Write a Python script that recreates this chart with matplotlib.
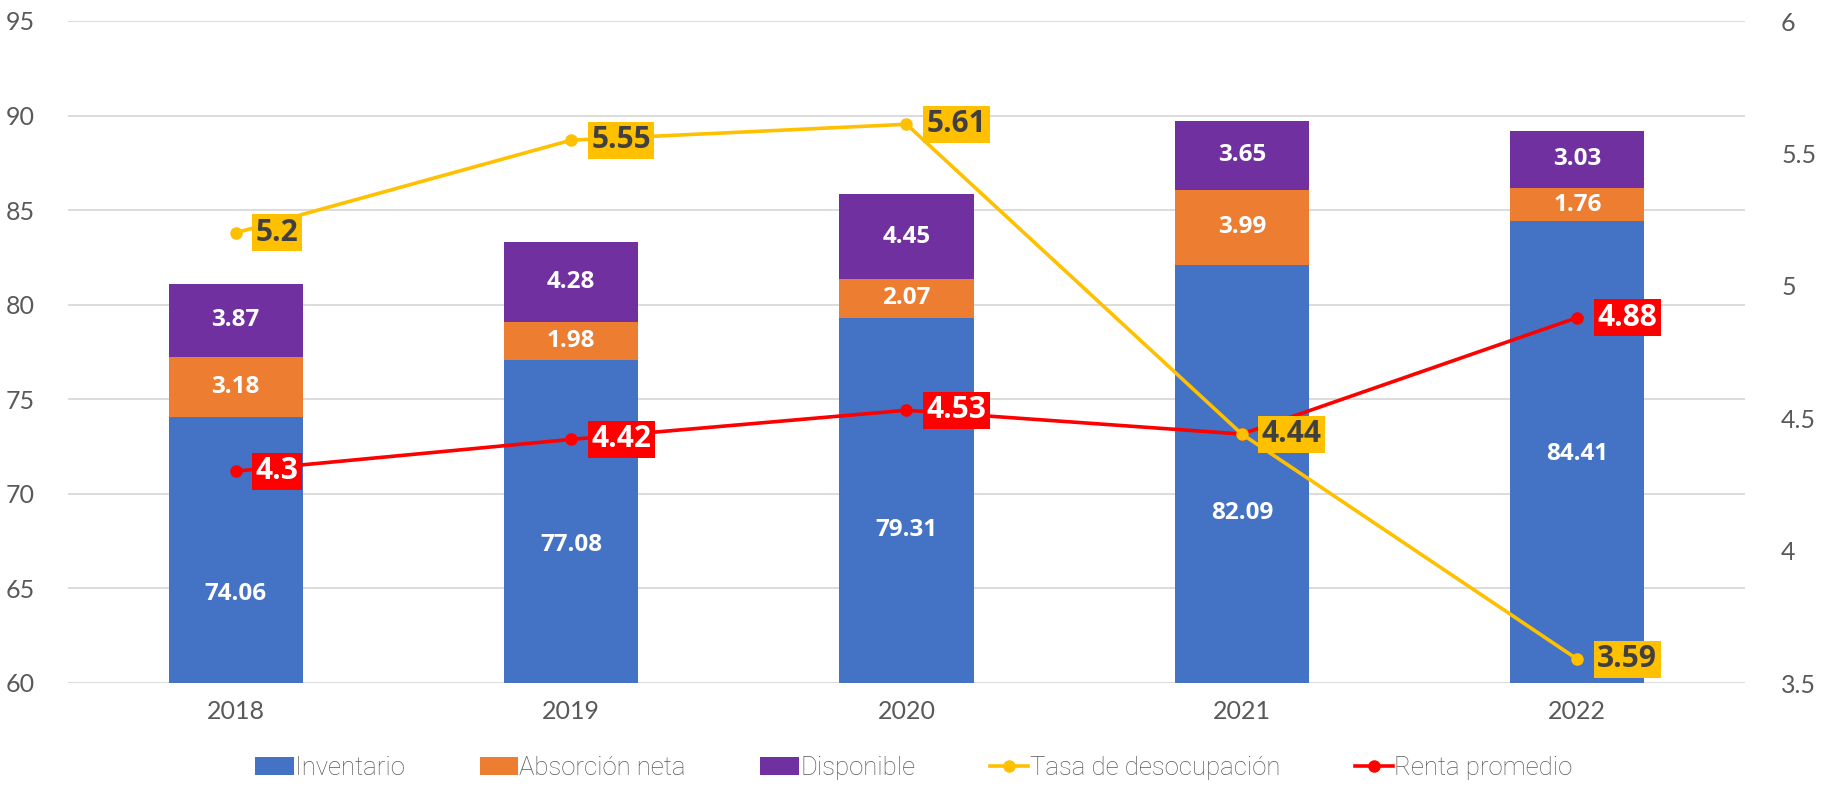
#!/usr/bin/env python3
"""Inventario / absorción / disponible con tasa de desocupación y renta promedio."""

import matplotlib
matplotlib.use("Agg")
import matplotlib.pyplot as plt
import numpy as np

years = ["2018", "2019", "2020", "2021", "2022"]
inventario = [74.06, 77.08, 79.31, 82.09, 84.41]
absorcion = [3.18, 1.98, 2.07, 3.99, 1.76]
disponible = [3.87, 4.28, 4.45, 3.65, 3.03]
tasa = [5.2, 5.55, 5.61, 4.44, 3.59]
renta = [4.3, 4.42, 4.53, 4.44, 4.88]

# where the inventario labels sit (left-axis units), as placed in the original
inv_label_y = [64.7, 67.3, 68.1, 69.0, 72.1]

BLUE = "#4472C4"
ORANGE = "#ED7D31"
PURPLE = "#7030A0"
YELLOW = "#FFC000"
RED = "#FF0000"
GRID = "#D9D9D9"
TICK = "#595959"

plt.rcParams["font.family"] = ["Lato", "DejaVu Sans"]
BOLD = ["Open Sans", "DejaVu Sans"]

fig = plt.figure(figsize=(18.28, 7.88), dpi=100)
ax = fig.add_axes([68 / 1828, 1 - 683 / 788, (1745 - 68) / 1828, (683 - 21) / 788])
ax2 = ax.twinx()

x = np.arange(len(years))
w = 0.4
inv = np.array(inventario)
ab = np.array(absorcion)
dis = np.array(disponible)

b1 = ax.bar(x, inv, w, color=BLUE, label="Inventario", zorder=2)
b2 = ax.bar(x, ab, w, bottom=inv, color=ORANGE, label="Absorción neta", zorder=2)
b3 = ax.bar(x, dis, w, bottom=inv + ab, color=PURPLE, label="Disponible", zorder=2)

lab_kw = dict(ha="center", va="center", color="white", fontsize=17.5,
              fontweight="bold", family=BOLD, zorder=3)
for i in range(len(years)):
    ax.text(x[i], inv_label_y[i], f"{inventario[i]:.2f}", **lab_kw)
    ax.text(x[i], inv[i] + ab[i] / 2, f"{absorcion[i]:.2f}", **lab_kw)
    ax.text(x[i], inv[i] + ab[i] + dis[i] / 2, f"{disponible[i]:.2f}", **lab_kw)

ax.set_ylim(60, 95)
ax.set_yticks(range(60, 96, 5))
ax.set_xlim(-0.5, len(years) - 0.5)
ax.set_xticks(x)
ax.set_xticklabels(years)
ax.grid(axis="y", color=GRID, linewidth=1.3, zorder=0)
ax.set_axisbelow(True)

ax2.set_ylim(3.5, 6)
ax2.set_yticks([3.5, 4, 4.5, 5, 5.5, 6])
ax2.set_yticklabels(["3.5", "4", "4.5", "5", "5.5", "6"])

for a in (ax, ax2):
    for s in a.spines.values():
        s.set_visible(False)
    a.tick_params(length=0, labelsize=18, labelcolor=TICK)
ax.tick_params(axis="y", pad=24)
ax.tick_params(axis="x", pad=12)
ax2.tick_params(axis="y", pad=26)

l_renta, = ax2.plot(x, renta, color=RED, lw=2.6, marker="o", ms=8,
                    label="Renta promedio", zorder=4)
l_tasa, = ax2.plot(x, tasa, color=YELLOW, lw=2.6, marker="o", ms=8,
                   label="Tasa de desocupación", zorder=5)

for i in range(len(years)):
    ax2.annotate(f"{renta[i]:g}", (x[i], renta[i]), xytext=(20, 0),
                 textcoords="offset pixels", ha="left", va="center",
                 fontsize=21.5, fontweight="bold", family=BOLD, color="white", zorder=6,
                 bbox=dict(boxstyle="square,pad=0.12", fc=RED, ec="none"))
for i in range(len(years)):
    ax2.annotate(f"{tasa[i]:g}", (x[i], tasa[i]), xytext=(20, 0),
                 textcoords="offset pixels", ha="left", va="center",
                 fontsize=21.5, fontweight="bold", family=BOLD, color="#404040", zorder=7,
                 bbox=dict(boxstyle="square,pad=0.12", fc=YELLOW, ec="none"))

handles = [b1, b2, b3, l_tasa, l_renta]
labels = [h.get_label() for h in handles]
leg = fig.legend(handles, labels, loc="center", bbox_to_anchor=(0.5, 20 / 788),
                 ncol=5, frameon=False, handlelength=1.5, handletextpad=0.05,
                 columnspacing=2.9, prop={"family": ["Roboto", "DejaVu Sans"],
                                          "weight": "light", "size": 18.5})
for t in leg.get_texts():
    t.set_color(TICK)

fig.savefig("out.png", dpi=100)
